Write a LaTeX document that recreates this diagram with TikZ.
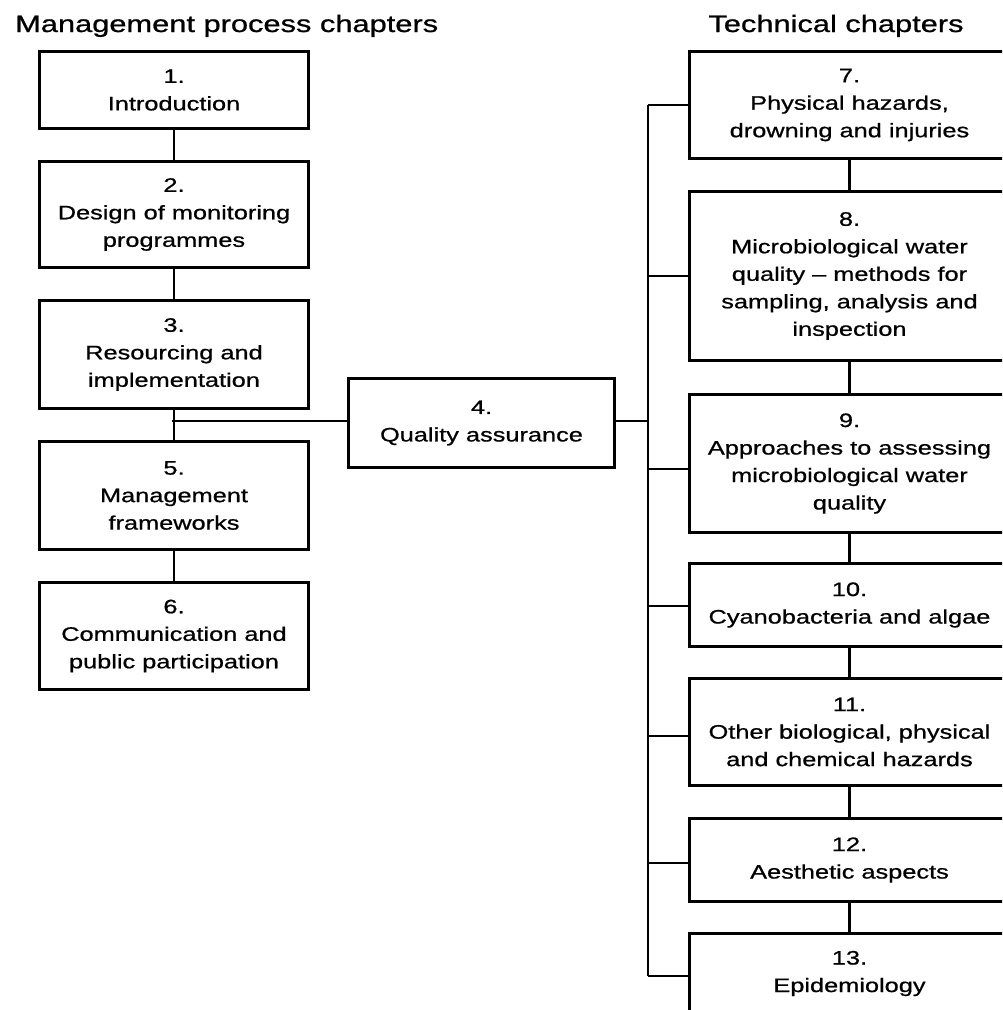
\documentclass[tikz,border=0pt]{standalone}
\usepackage{fontspec}
\setmainfont{Liberation Sans}[FakeStretch=1.3,FakeBold=0.8]
\begin{document}
\begin{tikzpicture}[x=1pt,y=-1pt,
  chapbox/.style={draw,line width=3pt,anchor=north west,inner sep=0pt,align=center,
    font=\fontsize{19.5}{27.5}\selectfont},
  conn/.style={line width=2.4pt},
  heading/.style={inner sep=0pt,font=\fontsize{23.7}{28}\selectfont}]
\useasboundingbox (0,0) rectangle (1002,1010);
\clip (0,0) rectangle (1002,1010);
% headings
\node[heading,anchor=base west] (hl) at (15,32) {Management process chapters};
\node[heading,anchor=base] (hr) at (836,32) {Technical chapters};
% left column
\node[chapbox,minimum width=269pt,minimum height=77pt] (n1) at (38,50) {1.\\Introduction};
\node[chapbox,minimum width=269pt,minimum height=106pt] (n2) at (38,160) {2.\\Design of monitoring\\programmes};
\node[chapbox,minimum width=269pt,minimum height=108pt] (n3) at (38,299) {3.\\Resourcing and\\implementation};
\node[chapbox,minimum width=269pt,minimum height=108pt] (n5) at (38,440) {5.\\Management\\frameworks};
\node[chapbox,minimum width=269pt,minimum height=107pt] (n6) at (38,581) {6.\\Communication and\\public participation};
% centre
\node[chapbox,minimum width=266pt,minimum height=89pt] (n4) at (347,377) {4.\\Quality assurance};
% right column
\node[chapbox,minimum width=320pt,minimum height=107pt] (n7) at (688,50) {7.\\Physical hazards,\\drowning and injuries};
\node[chapbox,minimum width=320pt,minimum height=169pt] (n8) at (688,190) {8.\\Microbiological water\\quality -- methods for\\sampling, analysis and\\inspection};
\node[chapbox,minimum width=320pt,minimum height=138pt] (n9) at (688,393) {9.\\Approaches to assessing\\microbiological water\\quality};
\node[chapbox,minimum width=320pt,minimum height=83pt] (n10) at (688,562) {10.\\Cyanobacteria and algae};
\node[chapbox,minimum width=320pt,minimum height=107pt] (n11) at (688,677) {11.\\Other biological, physical\\and chemical hazards};
\node[chapbox,minimum width=320pt,minimum height=83pt] (n12) at (688,817) {12.\\Aesthetic aspects};
\node[chapbox,minimum width=320pt,minimum height=80pt] (n13) at (688,932) {13.\\Epidemiology};
% left connectors
\coordinate (lj) at (172,421);
\draw[conn] (n1.south) -- (n2.north);
\draw[conn] (n2.south) -- (n3.north);
\draw[conn] (n3.south) -- (n5.north);
\draw[conn] (n5.south) -- (n6.north);
\draw[conn] (lj) -- (lj -| n4.west);
% right connectors
\coordinate (rj) at (648,421);
\coordinate (btop) at (648,105);
\coordinate (bbot) at (648,976);
\draw[conn] (n4.east |- rj) -- (rj);
\draw[conn] (btop) -- (bbot);
\draw[conn] (btop) -- (btop -| n7.west);
\draw[conn] (bbot) -- (bbot -| n13.west);
\foreach \n/\yy in {n8/276,n9/469,n10/606,n11/736,n12/863}{
  \draw[conn] (648,\yy) -- (\n.west |- 0,\yy);
}
\draw[conn] (n7.south) -- (n8.north);
\draw[conn] (n8.south) -- (n9.north);
\draw[conn] (n9.south) -- (n10.north);
\draw[conn] (n10.south) -- (n11.north);
\draw[conn] (n11.south) -- (n12.north);
\draw[conn] (n12.south) -- (n13.north);
\end{tikzpicture}
\end{document}
